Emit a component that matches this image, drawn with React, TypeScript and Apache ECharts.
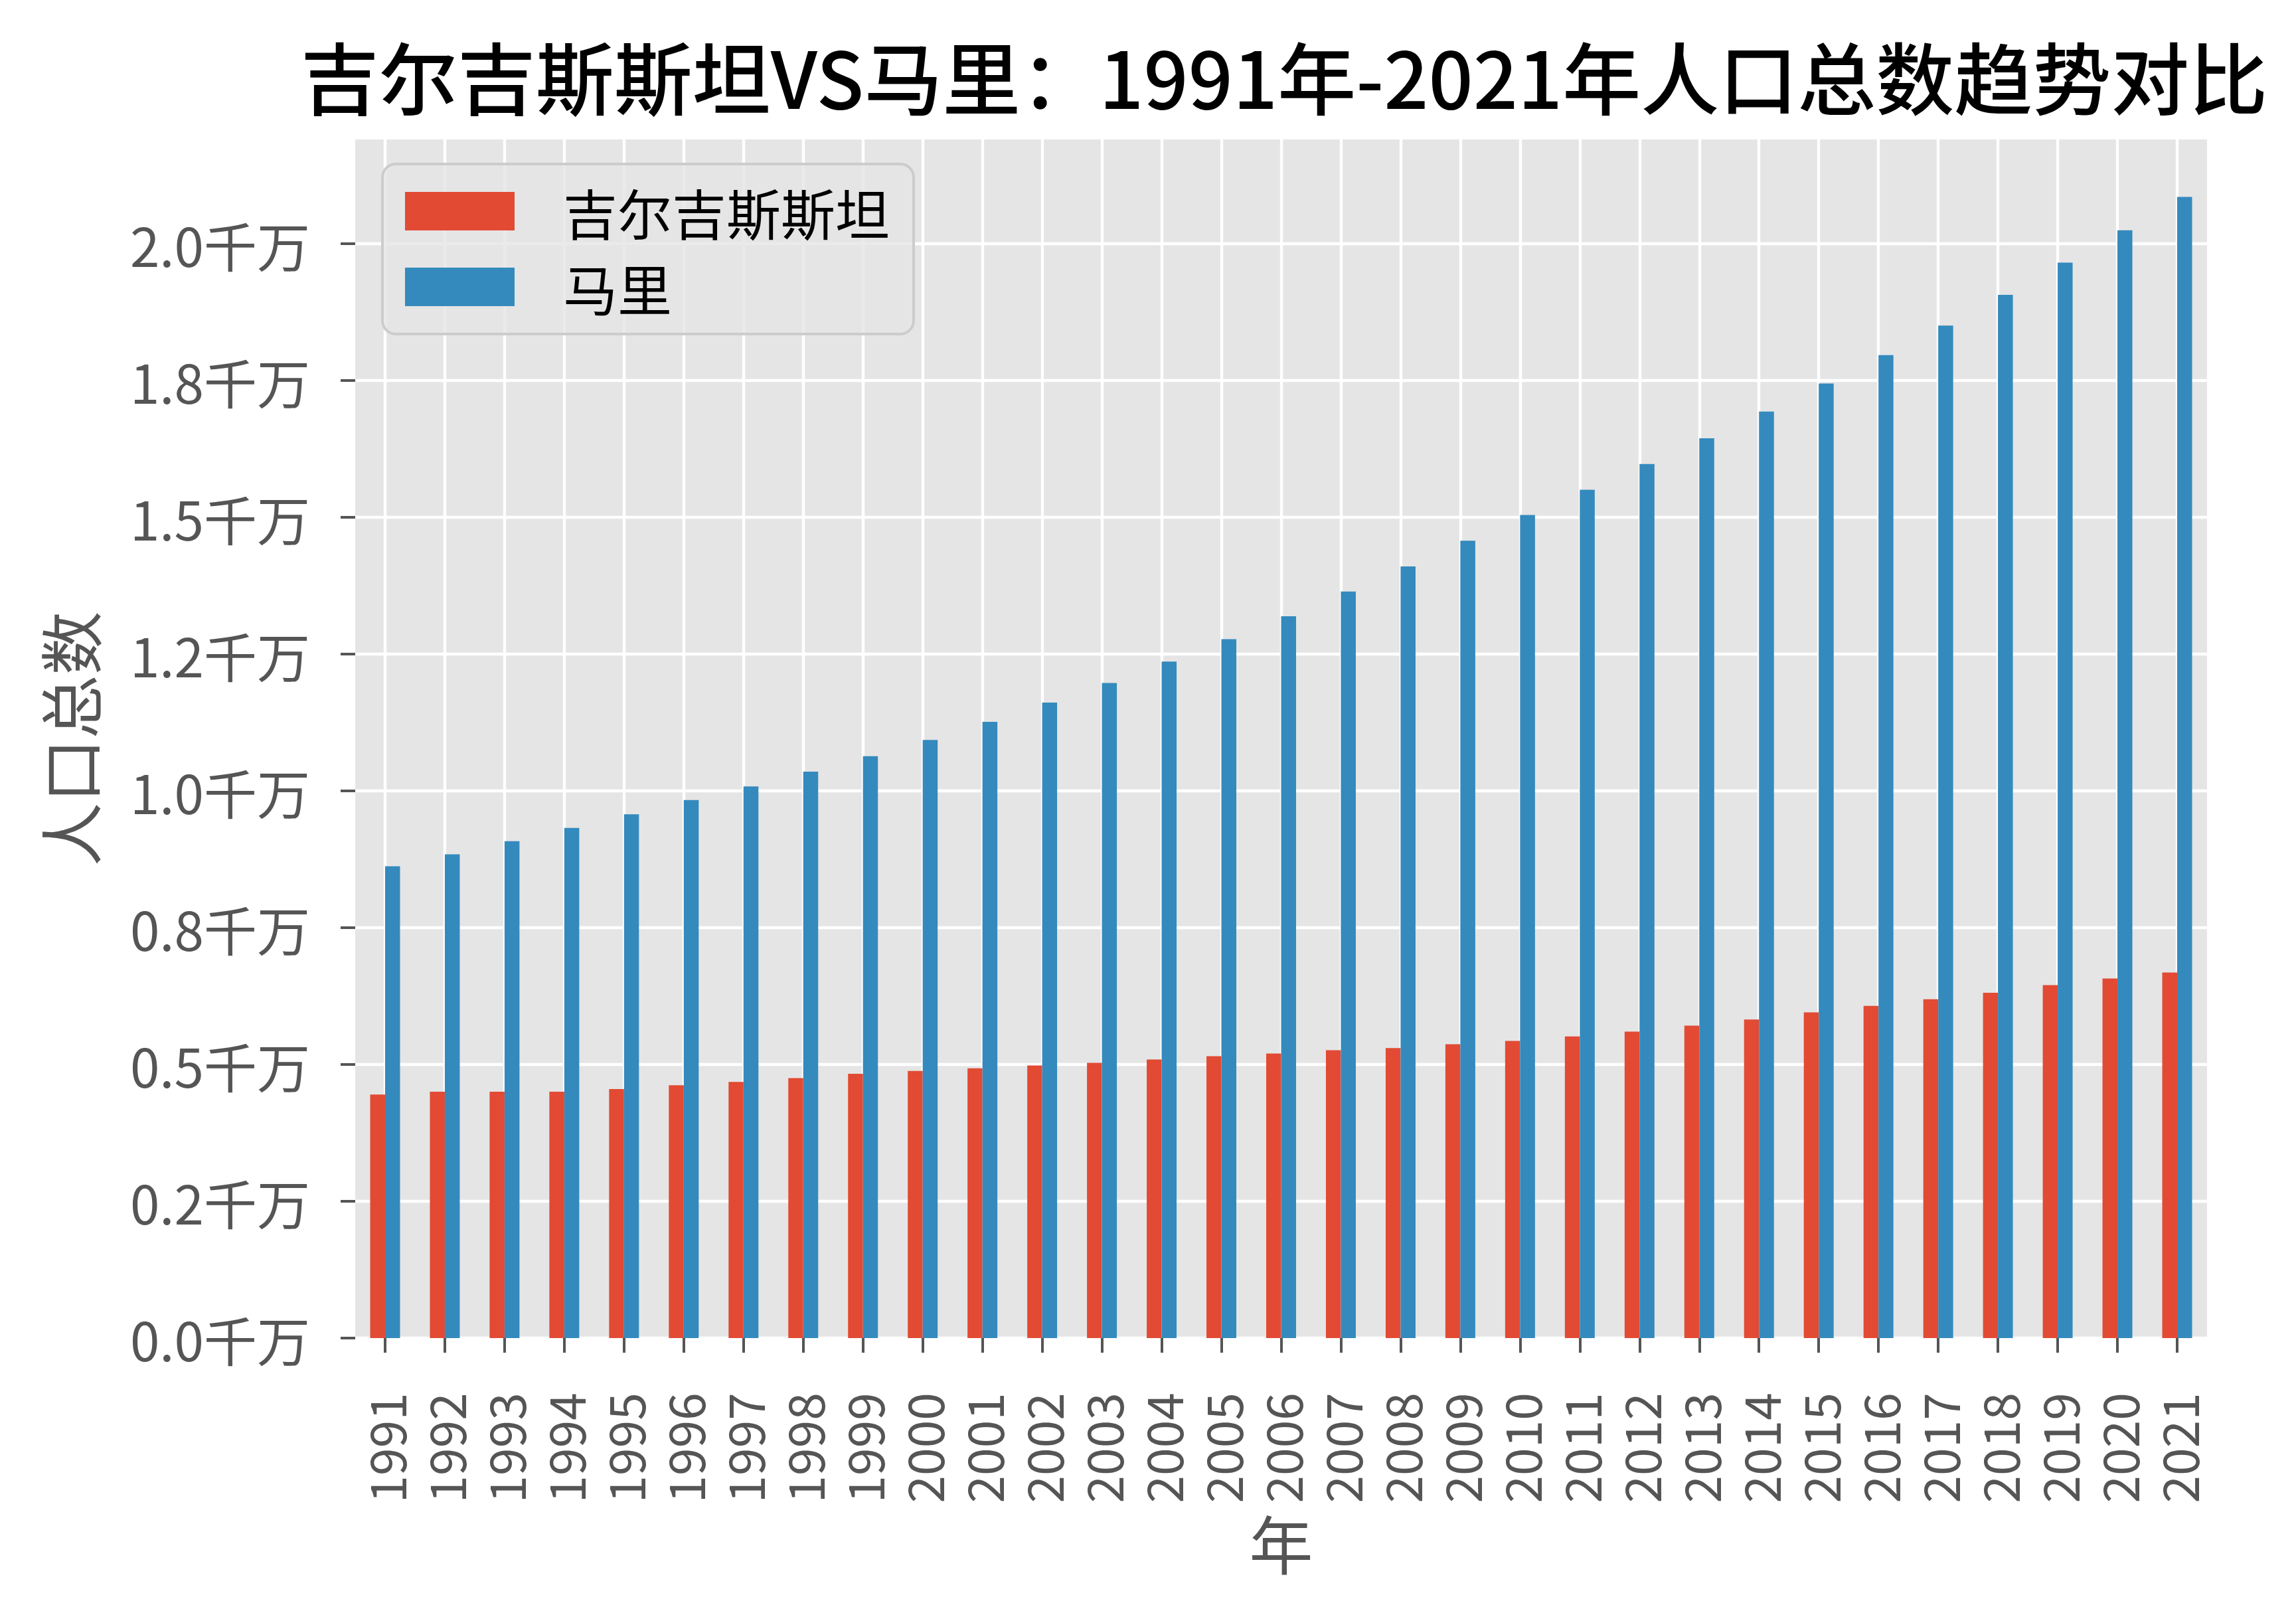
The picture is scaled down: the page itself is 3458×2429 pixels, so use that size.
import React, { useEffect, useRef } from "react";
import * as echarts from "echarts";

const years = [
  "1991", "1992", "1993", "1994", "1995", "1996", "1997", "1998", "1999", "2000",
  "2001", "2002", "2003", "2004", "2005", "2006", "2007", "2008", "2009", "2010",
  "2011", "2012", "2013", "2014", "2015", "2016", "2017", "2018", "2019", "2020", "2021",
];

// values in 千万 (10 million people)
const kyrgyzstan = [
  0.445, 0.45, 0.45, 0.45, 0.455, 0.462, 0.468, 0.475, 0.483, 0.488,
  0.493, 0.498, 0.503, 0.509, 0.515, 0.52, 0.526, 0.53, 0.537, 0.543,
  0.551, 0.56, 0.571, 0.582, 0.595, 0.607, 0.619, 0.631, 0.645, 0.657, 0.668,
];

const mali = [
  0.862, 0.884, 0.908, 0.932, 0.957, 0.983, 1.008, 1.035, 1.063, 1.093,
  1.126, 1.161, 1.197, 1.236, 1.277, 1.319, 1.364, 1.41, 1.457, 1.504,
  1.55, 1.597, 1.644, 1.693, 1.744, 1.796, 1.85, 1.906, 1.965, 2.024, 2.085,
];

const seriesNames = ["吉尔吉斯斯坦", "马里"];
const yTickValues = [0, 0.25, 0.5, 0.75, 1.0, 1.25, 1.5, 1.75, 2.0];
const yTickLabels = ["0.0千万", "0.2千万", "0.5千万", "0.8千万", "1.0千万", "1.2千万", "1.5千万", "1.8千万", "2.0千万"];

const titleText = "吉尔吉斯斯坦VS马里：1991年-2021年人口总数趋势对比";
const FONT = "'Noto Sans CJK SC', 'Noto Sans', sans-serif";

export default function App() {
  const ref = useRef<HTMLDivElement>(null);

  useEffect(() => {
    if (!ref.current) return;
    const chart = echarts.init(ref.current, null, { renderer: "svg" });
    const option: any = {
      animation: false,
      backgroundColor: "#ffffff",
      title: {
        text: titleText,
        left: 1929,
        top: 48,
        textAlign: "center",
        textStyle: { fontSize: 118, fontWeight: 500, color: "#000000", fontFamily: FONT },
      },
      legend: {
        orient: "vertical",
        left: 576,
        top: 247,
        data: seriesNames,
        icon: "rect",
        itemWidth: 165,
        itemHeight: 58,
        itemGap: 32,
        padding: [30, 36, 30, 34],
        backgroundColor: "rgba(229,229,229,0.8)",
        borderColor: "#CCCCCC",
        borderWidth: 4,
        borderRadius: 20,
        textStyle: { fontSize: 82, color: "#000000", fontFamily: FONT, padding: [0, 0, 0, 68] },
      },
      grid: {
        left: 535,
        right: 134,
        top: 210,
        bottom: 414,
        show: true,
        backgroundColor: "#E5E5E5",
        borderWidth: 0,
      },
      xAxis: {
        type: "category",
        data: years,
        name: "年",
        nameLocation: "middle",
        nameGap: 258,
        nameTextStyle: { fontSize: 96, color: "#555555", fontFamily: FONT },
        axisLine: { show: false },
        axisTick: { show: true, alignWithLabel: true, length: 22, lineStyle: { color: "#555555", width: 4 } },
        axisLabel: { rotate: 90, interval: 0, margin: 82, fontSize: 75, color: "#555555", fontFamily: FONT },
        splitLine: { show: true, alignWithLabel: true, lineStyle: { color: "#ffffff", width: 4.4 } },
      },
      yAxis: {
        type: "value",
        min: 0,
        max: 2.19,
        interval: 0.25,
        name: "人口总数",
        nameLocation: "middle",
        nameGap: 385,
        nameTextStyle: { fontSize: 96, color: "#555555", fontFamily: FONT },
        axisLine: { show: false },
        axisTick: { show: true, length: 22, lineStyle: { color: "#555555", width: 4 }, customValues: yTickValues },
        axisLabel: {
          customValues: yTickValues,
          margin: 68,
          fontSize: 80,
          color: "#555555",
          fontFamily: FONT,
          formatter: (v: number) => {
            const i = Math.round(v / 0.25);
            return Math.abs(v - i * 0.25) < 1e-6 && yTickLabels[i] ? yTickLabels[i] : "";
          },
        },
        splitLine: { show: true, lineStyle: { color: "#ffffff", width: 4.4 } },
      },
      series: [
        {
          type: "bar",
          name: seriesNames[0],
          data: kyrgyzstan,
          barWidth: "25%",
          barGap: "0%",
          itemStyle: { color: "#E24A33" },
        },
        {
          type: "bar",
          name: seriesNames[1],
          data: mali,
          barWidth: "25%",
          barGap: "0%",
          itemStyle: { color: "#348ABD" },
        },
      ],
    };
    chart.setOption(option);
    return () => chart.dispose();
  }, []);

  return (
    <div
      ref={ref}
      style={{ position: "fixed", left: 0, top: 0, width: 3458, height: 2429 }}
    />
  );
}
